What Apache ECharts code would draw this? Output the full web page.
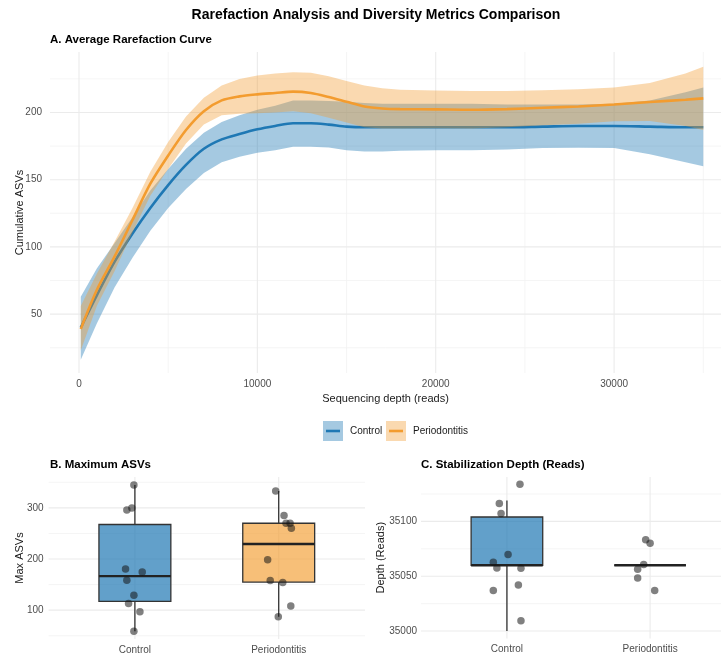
<!DOCTYPE html>
<html>
<head>
<meta charset="utf-8">
<script src="https://cdn.jsdelivr.net/npm/echarts@6/dist/echarts.min.js"></script>
<style>
html,body{margin:0;padding:0;background:#fff;}
#chart{width:721px;height:655px;}
</style>
</head>
<body>
<div id="chart"></div>
<script>
// ---------- Panel A: rarefaction curves ----------
const depth = [100,1000,2000,3000,4000,5000,6000,7000,8000,9000,10000,11000,12000,13000,14000,15000,16000,17000,18000,20000,22000,24000,26000,28000,30000,32000,34000,35000];
const controlMean  = [40,64,89,110,129,146,161,173,180,184,187.5,190,192,192,191,189.5,189,189,189,189,189,189,189.5,190,190,189.5,189,189];
const controlUpper = [63,84,103,122,142,158,173,185,193,198,202,205,209,209,208.5,208,207,206.5,206.5,206.5,206.5,206,206,206,206.5,209,215,218.5];
const controlLower = [16,43,70,92,112,129,143,155,163,167,170,172,174.5,174.5,174,172,171,171,171.5,172,172,172.5,173.5,173.8,173.5,169,163,160];
const perioMean    = [39,68,93,120,147,168,187,201,209,212,213.5,214.5,215.5,214.5,211.5,208,204.5,203,202.5,202.3,202,202.5,203.5,204.5,206,207.8,209.5,210.5];
const perioUpper   = [56,80,104,129,156,178,197,211,220,225,227.5,229,230,229.5,227,223.5,220,218,217,216.3,216,216,216.5,217.3,218.5,222,229,234];
const perioLower   = [23,56,82,111,138,158,177,191,198,199,199.5,200,201,199.5,196,192.5,189,188,188,188.3,188,189,190.5,191.7,193.5,193.6,190,187];
const xTicksA = [0,10000,20000,30000];
const xMinorA = [5000,15000,25000,35000];
const yTicksA = [50,100,150,200];
const yMinorA = [25,75,125,175,225];

// ---------- Panel B: maximum ASVs ----------
const groups = ['Control','Periodontitis'];
const maxAsvControl = [345,296,300,180.5,174.6,158.5,129,113,96.7,59];
const maxAsvControlJitter = [-0.007,-0.056,-0.021,-0.065,0.051,-0.056,-0.007,-0.044,0.035,-0.007];
const maxAsvPerio = [333,285,270,270,260,198.6,158,154,108,87];
const maxAsvPerioJitter = [-0.021,0.037,0.051,0.079,0.088,-0.077,-0.059,0.028,0.084,-0.003];
// [group position, min, q1, median, q3, max]
const maxAsvBoxControl = [1,59,117,166.5,267.5,345];
const maxAsvBoxPerio   = [2,87,155,229.3,270,333];
const yTicksB = [100,200,300];
const yMinorB = [50,150,250,350];

// ---------- Panel C: stabilization depth ----------
const depthControl = [35134,35116.4,35107.3,35069.8,35062.8,35057.6,35057.3,35042.1,35037,35009.5];
const depthControlJitter = [0.091,-0.053,-0.041,0.008,-0.095,-0.070,0.098,0.080,-0.095,0.098];
const depthPerio = [35083.2,35080.1,35060.7,35056.4,35048.5,35037];
const depthPerioJitter = [-0.031,0,-0.045,-0.087,-0.087,0.032];
const depthBoxControl = [1,35000,35060,35060,35104,35119];
const depthBoxPerio   = [2,35060,35060,35060,35060,35060];
const yTicksC = [35000,35050,35100];
const yMinorC = [35025,35075,35125];

// ---------- style ----------
const FONT = 'Liberation Sans, Arial, Helvetica, sans-serif';
const BLUE = '#1F78B4';
const ORANGE = '#F39C2F';
const BLUE_BAND = 'rgba(31,120,180,0.4)';
const ORANGE_BAND = 'rgba(243,156,47,0.38)';
const BLUE_BOX = 'rgba(31,120,180,0.7)';
const ORANGE_BOX = 'rgba(243,156,47,0.65)';
const GRID_MAJOR = '#EBEBEB';
const GRID_MINOR = '#F3F3F3';
const TICK_COLOR = '#4D4D4D';

// panels A and C run past the right edge of the picture: the visible part ends at x = 721
const A = {xMin:-1625, xMax:35993, yMin:6.2, yMax:245};
const B = {xMin:0.4, xMax:2.6, yMin:43.6, yMax:360.4};
const C = {xMin:0.4, xMax:2.495, yMin:34993.3, yMax:35140.5};

function gridLines(xi, ext, vals, vertical, color, width) {
  return {
    type:'custom', xAxisIndex:xi, yAxisIndex:xi, silent:true, z:0, clip:false,
    data: vals.map(v => vertical ? [v, ext.yMin] : [ext.xMin, v]),
    renderItem: function(params, api) {
      const v = vertical ? api.value(0) : api.value(1);
      const p1 = vertical ? api.coord([v, ext.yMin]) : api.coord([ext.xMin, v]);
      const p2 = vertical ? api.coord([v, ext.yMax]) : api.coord([ext.xMax, v]);
      return {type:'line', shape:{x1:p1[0],y1:p1[1],x2:p2[0],y2:p2[1]}, style:{stroke:color, lineWidth:width}};
    }
  };
}

function band(upper, lower, color, z) {
  return {
    type:'custom', xAxisIndex:0, yAxisIndex:0, silent:true, z:z,
    data: [[depth[0], lower[0]]],
    renderItem: function(params, api) {
      const pts = [];
      for (let i = 0; i < depth.length; i++) pts.push(api.coord([depth[i], upper[i]]));
      for (let i = depth.length - 1; i >= 0; i--) pts.push(api.coord([depth[i], lower[i]]));
      return {type:'polygon', shape:{points:pts}, style:{fill:color}};
    }
  };
}

function line(vals, color, z) {
  return {
    type:'line', xAxisIndex:0, yAxisIndex:0, z:z, smooth:0.3, symbol:'none',
    data: depth.map((d,i) => [d, vals[i]]),
    lineStyle:{color:color, width:2.6}, silent:true
  };
}

function box(xi, stats, fill) {
  return {
    type:'custom', xAxisIndex:xi, yAxisIndex:xi, z:3, silent:true,
    data:[stats],
    renderItem: function(params, api) {
      const c = api.value(0), mn = api.value(1), q1 = api.value(2), md = api.value(3), q3 = api.value(4), mx = api.value(5);
      const hw = 0.25;
      const pMax = api.coord([c, mx]), pQ3 = api.coord([c, q3]), pQ1 = api.coord([c, q1]), pMin = api.coord([c, mn]);
      const tl = api.coord([c - hw, q3]), br = api.coord([c + hw, q1]);
      const ml = api.coord([c - hw, md]), mr = api.coord([c + hw, md]);
      const stroke = '#333333';
      return {type:'group', children:[
        {type:'line', shape:{x1:pMax[0],y1:pMax[1],x2:pQ3[0],y2:pQ3[1]}, style:{stroke:stroke, lineWidth:1.3}},
        {type:'line', shape:{x1:pQ1[0],y1:pQ1[1],x2:pMin[0],y2:pMin[1]}, style:{stroke:stroke, lineWidth:1.3}},
        {type:'rect', shape:{x:tl[0], y:tl[1], width:br[0]-tl[0], height:br[1]-tl[1]}, style:{fill:fill, stroke:stroke, lineWidth:1.3}},
        {type:'line', shape:{x1:ml[0],y1:ml[1],x2:mr[0],y2:mr[1]}, style:{stroke:'#222222', lineWidth:2.4}}
      ]};
    }
  };
}

function points(xi, pos, vals, jit) {
  return {
    type:'scatter', xAxisIndex:xi, yAxisIndex:xi, z:5, silent:true,
    symbolSize:7.5,
    itemStyle:{color:'rgba(20,20,20,0.68)'},
    data: vals.map((v,i) => [pos + jit[i], v])
  };
}

function valueAxisX(gi, ext, ticks, fmt, extra) {
  return Object.assign({
    type:'value', gridIndex:gi, min:ext.xMin, max:ext.xMax,
    axisLine:{show:false}, axisTick:{show:false}, splitLine:{show:false},
    axisLabel:{customValues:ticks, formatter:fmt, color:TICK_COLOR, fontSize:10, fontFamily:FONT, margin:6, showMinLabel:true, showMaxLabel:true}
  }, extra || {});
}
function valueAxisY(gi, ext, ticks, name, gap, margin) {
  return {
    type:'value', gridIndex:gi, min:ext.yMin, max:ext.yMax,
    axisLine:{show:false}, axisTick:{show:false}, splitLine:{show:false},
    axisLabel:{customValues:ticks, formatter:v => String(v), color:TICK_COLOR, fontSize:10, fontFamily:FONT, margin:margin},
    name:name, nameLocation:'middle', nameGap:gap, nameRotate:90, nameMoveOverlap:false,
    nameTextStyle:{color:'#1a1a1a', fontSize:11, fontFamily:FONT}
  };
}

const catFmt = v => groups[Math.round(v) - 1] || '';

function label(x, y, text, font, align) {
  return {type:'text', x:x, y:y, z:10, silent:true,
    style:{text:text, fill:'#000', font:font, textAlign:align || 'left', textVerticalAlign:'middle'}};
}

const option = {
  animation:false,
  backgroundColor:'#ffffff',
  textStyle:{fontFamily:FONT},
  grid:[
    {left:50, top:52, width:671, height:321},
    {left:48.6, top:477, width:316.4, height:162},
    {left:421, top:477, width:300, height:161.4}
  ],
  xAxis:[
    valueAxisX(0, A, xTicksA, v => String(v), {name:'Sequencing depth (reads)', nameLocation:'middle', nameGap:20, nameMoveOverlap:false, nameTextStyle:{color:'#1a1a1a', fontSize:11, fontFamily:FONT}}),
    valueAxisX(1, B, [1,2], catFmt),
    valueAxisX(2, C, [1,2], catFmt)
  ],
  yAxis:[
    valueAxisY(0, A, yTicksA, 'Cumulative ASVs', 24.5, 8),
    valueAxisY(1, B, yTicksB, 'Max ASVs', 23, 5),
    valueAxisY(2, C, yTicksC, 'Depth (Reads)', 34.5, 4)
  ],
  graphic:[
    label(376, 15, 'Rarefaction Analysis and Diversity Metrics Comparison', 'bold 14px ' + FONT, 'center'),
    label(50, 40, 'A. Average Rarefaction Curve', 'bold 11.5px ' + FONT),
    label(50, 465, 'B. Maximum ASVs', 'bold 11.5px ' + FONT),
    label(421, 465, 'C. Stabilization Depth (Reads)', 'bold 11.5px ' + FONT),
    {type:'rect', shape:{x:323, y:421, width:20, height:20}, style:{fill:BLUE_BAND}, z:10, silent:true},
    {type:'line', shape:{x1:326, y1:431, x2:340, y2:431}, style:{stroke:BLUE, lineWidth:2.6}, z:11, silent:true},
    {type:'text', x:350, y:431, z:10, silent:true, style:{text:'Control', fill:'#1a1a1a', font:'10px ' + FONT, textVerticalAlign:'middle'}},
    {type:'rect', shape:{x:386, y:421, width:20, height:20}, style:{fill:ORANGE_BAND}, z:10, silent:true},
    {type:'line', shape:{x1:389, y1:431, x2:403, y2:431}, style:{stroke:ORANGE, lineWidth:2.6}, z:11, silent:true},
    {type:'text', x:413, y:431, z:10, silent:true, style:{text:'Periodontitis', fill:'#1a1a1a', font:'10px ' + FONT, textVerticalAlign:'middle'}}
  ],
  series:[
    gridLines(0, A, xMinorA, true, GRID_MINOR, 0.8),
    gridLines(0, A, yMinorA, false, GRID_MINOR, 0.8),
    gridLines(0, A, xTicksA, true, GRID_MAJOR, 1.1),
    gridLines(0, A, yTicksA, false, GRID_MAJOR, 1.1),
    gridLines(1, B, yMinorB, false, GRID_MINOR, 0.8),
    gridLines(1, B, yTicksB, false, GRID_MAJOR, 1.1),
    gridLines(1, B, [1,2], true, GRID_MAJOR, 1.1),
    gridLines(2, C, yMinorC, false, GRID_MINOR, 0.8),
    gridLines(2, C, yTicksC, false, GRID_MAJOR, 1.1),
    gridLines(2, C, [1,2], true, GRID_MAJOR, 1.1),
    band(controlUpper, controlLower, BLUE_BAND, 1),
    line(controlMean, BLUE, 2),
    band(perioUpper, perioLower, ORANGE_BAND, 3),
    line(perioMean, ORANGE, 4),
    box(1, maxAsvBoxControl, BLUE_BOX),
    box(1, maxAsvBoxPerio, ORANGE_BOX),
    points(1, 1, maxAsvControl, maxAsvControlJitter),
    points(1, 2, maxAsvPerio, maxAsvPerioJitter),
    box(2, depthBoxControl, BLUE_BOX),
    box(2, depthBoxPerio, ORANGE_BOX),
    points(2, 1, depthControl, depthControlJitter),
    points(2, 2, depthPerio, depthPerioJitter)
  ]
};

const chart = echarts.init(document.getElementById('chart'), null, {renderer:'canvas'});
chart.setOption(option);
</script>
</body>
</html>
